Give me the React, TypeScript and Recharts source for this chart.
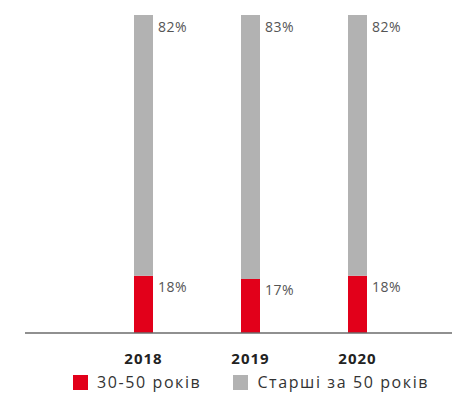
import React from "react";
import { BarChart, Bar, XAxis, YAxis, Legend, LabelList } from "recharts";

const years = ["2018", "2019", "2020"];
const young = [18, 17, 18];
const older = [82, 83, 82];
const seriesNames = ["30-50 років", "Старші за 50 років"];
const colors = ["#E2001A", "#B2B2B2"];

const data = years.map((y, i) => ({ year: y, young: young[i], older: older[i] }));

const Label = (props: any) => {
  const { x, y, width, value } = props;
  return (
    <text
      x={x + width + 5}
      y={y + 16.5}
      fill="#555"
      fontSize={14}
      letterSpacing={0.5}
      fontFamily="'Open Sans', sans-serif"
    >
      {value}%
    </text>
  );
};

const LegendContent = () => (
  <div
    style={{
      display: "flex",
      alignItems: "center",
      boxSizing: "border-box",
      width: 452,
      paddingLeft: 73,
      paddingTop: 8,
      fontFamily: "'Open Sans', sans-serif",
      fontSize: 16,
      lineHeight: "18px",
      letterSpacing: "1.6px",
      whiteSpace: "nowrap",
      color: "#333",
      height: 30,
    }}
  >
    {seriesNames.map((n, i) => (
      <div key={n} style={{ display: "flex", alignItems: "center", marginRight: 32, flexShrink: 0 }}>
        <span style={{ width: 15, height: 15, background: colors[i], display: "inline-block", marginRight: 9, flexShrink: 0 }} />
        <span style={{ whiteSpace: "nowrap" }}>{n}</span>
      </div>
    ))}
  </div>
);

export default function App() {
  return (
    <div style={{ position: "absolute", left: 0, top: 0 }}>
      <BarChart
        width={452}
        height={393}
        data={data}
        margin={{ top: 15, right: 0, bottom: 0, left: 25 }}
      >
        <XAxis
          dataKey="year"
          axisLine={{ stroke: "#6b6b6b", strokeWidth: 1.5 }}
          tickLine={false}
          tickSize={6}
          tickMargin={14}
          height={30}
          padding={{ left: 65, right: 41 }}
          tick={{ fill: "#222", fontSize: 15, fontWeight: 700, letterSpacing: 1, fontFamily: "'Open Sans', sans-serif" }}
          interval={0}
        />
        <YAxis hide domain={[0, 100]} />
        <Legend
          verticalAlign="bottom"
          height={30}
          content={<LegendContent />}
          wrapperStyle={{ left: 0, width: 452, bottom: 0 }}
        />
        <Bar dataKey="young" stackId="a" fill={colors[0]} barSize={19} isAnimationActive={false}>
          <LabelList dataKey="young" content={<Label />} />
        </Bar>
        <Bar dataKey="older" stackId="a" fill={colors[1]} barSize={19} isAnimationActive={false}>
          <LabelList dataKey="older" content={<Label />} />
        </Bar>
      </BarChart>
    </div>
  );
}
